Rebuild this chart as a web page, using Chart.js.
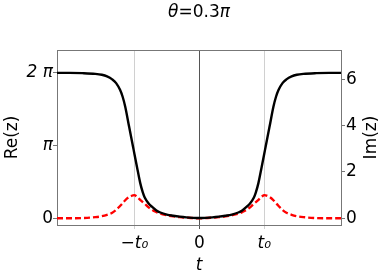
<!DOCTYPE html>
<html>
<head>
<meta charset="utf-8">
<script src="https://cdn.jsdelivr.net/npm/chart.js@4.4.0/dist/chart.umd.min.js"></script>
<style>
  html, body { margin: 0; padding: 0; background: #fff; }
  #wrap { width: 382px; height: 276px; }
</style>
</head>
<body>
<div id="wrap"><canvas id="plot" width="382" height="276"></canvas></div>
<script>
// t in units of t0
const tVals = [-2.19, -2.0, -1.8, -1.6, -1.5, -1.42, -1.34, -1.28, -1.22, -1.18, -1.14, -1.08, -1.02, -1.0, -0.96, -0.91, -0.87, -0.84, -0.78, -0.73, -0.66, -0.6, -0.5, -0.4, -0.3, -0.2, -0.1,
  0,
  0.1, 0.2, 0.3, 0.4, 0.5, 0.6, 0.66, 0.73, 0.78, 0.84, 0.87, 0.91, 0.96, 1.0, 1.02, 1.08, 1.14, 1.18, 1.22, 1.28, 1.34, 1.42, 1.5, 1.6, 1.8, 2.0, 2.19];
const reVals = [6.28, 6.28, 6.27, 6.24, 6.20, 6.13, 6.00, 5.84, 5.55, 5.25, 4.82, 3.95, 3.09, 2.80, 2.23, 1.53, 1.12, 0.90, 0.64, 0.50, 0.34, 0.25, 0.16, 0.11, 0.07, 0.04, 0.02,
  0.01,
  0.02, 0.04, 0.07, 0.11, 0.16, 0.25, 0.34, 0.50, 0.64, 0.90, 1.12, 1.53, 2.23, 2.80, 3.09, 3.95, 4.82, 5.25, 5.55, 5.84, 6.00, 6.13, 6.20, 6.24, 6.27, 6.28, 6.28];
const imVals = [0, 0, 0.01, 0.05, 0.09, 0.15, 0.24, 0.36, 0.53, 0.65, 0.78, 0.92, 0.99, 1.0, 0.93, 0.8, 0.7, 0.63, 0.47, 0.37, 0.27, 0.2, 0.13, 0.08, 0.05, 0.03, 0.01,
  0,
  0.01, 0.03, 0.05, 0.08, 0.13, 0.2, 0.27, 0.37, 0.47, 0.63, 0.7, 0.8, 0.93, 1.0, 0.99, 0.92, 0.78, 0.65, 0.53, 0.36, 0.24, 0.15, 0.09, 0.05, 0.01, 0, 0];

const xTicks = [-1, 0, 1];
const xTickLabels = ["\u2212t\u2080", "0", "t\u2080"];
const reTicks = [0, Math.PI, 2 * Math.PI];
const reTickLabels = ["0", "\u03c0", "2 \u03c0"];
const imTicks = [0, 2, 4, 6];

const FONT = "'DejaVu Sans', sans-serif";
const frameColor = "#777";

const extras = {
  id: "extras",
  afterDraw(chart) {
    const { ctx, chartArea: a } = chart;
    ctx.save();
    ctx.strokeStyle = frameColor;
    ctx.lineWidth = 1;
    ctx.beginPath();
    ctx.moveTo(a.left, a.top + 0.5);
    ctx.lineTo(a.right, a.top + 0.5);
    ctx.stroke();

    // title: θ=0.3π
    ctx.fillStyle = "#000";
    ctx.textBaseline = "middle";
    const parts = [["\u03b8", "italic"], ["=0.3", "normal"], ["\u03c0", "italic"]];
    let w = 0;
    parts.forEach(p => { ctx.font = p[1] + " 17px " + FONT; w += ctx.measureText(p[0]).width; });
    let x = (a.left + a.right) / 2 - w / 2;
    parts.forEach(p => {
      ctx.font = p[1] + " 17px " + FONT;
      ctx.fillText(p[0], x, 13);
      x += ctx.measureText(p[0]).width;
    });

    // right axis title, reads bottom to top
    ctx.font = "17px " + FONT;
    ctx.translate(372, (a.top + a.bottom) / 2);
    ctx.rotate(-Math.PI / 2);
    ctx.textAlign = "center";
    ctx.fillText("Im(z)", 0, 0);
    ctx.restore();
  }
};

new Chart(document.getElementById("plot").getContext("2d"), {
  type: "line",
  data: {
    labels: tVals,
    datasets: [
      {
        label: "Re(z)",
        data: tVals.map((t, i) => ({ x: t, y: reVals[i] })),
        yAxisID: "y",
        borderColor: "#000",
        borderWidth: 2.4,
        pointRadius: 0,
        cubicInterpolationMode: "monotone",
        fill: false,
      },
      {
        label: "Im(z)",
        data: tVals.map((t, i) => ({ x: t, y: imVals[i] })),
        yAxisID: "y1",
        borderColor: "#ff0000",
        borderWidth: 2.4,
        borderDash: [6, 3],
        pointRadius: 0,
        cubicInterpolationMode: "monotone",
        fill: false,
      },
    ],
  },
  options: {
    responsive: false,
    animation: false,
    layout: { padding: { top: 50, left: 0, right: 0, bottom: 0 } },
    plugins: { legend: { display: false }, tooltip: { enabled: false } },
    scales: {
      x: {
        type: "linear",
        min: -2.19,
        max: 2.18,
        afterBuildTicks: (s) => { s.ticks = xTicks.map(v => ({ value: v })); },
        afterFit: (s) => { s.height = 51; },
        border: { color: frameColor },
        grid: {
          color: (c) => (c.tick && c.tick.value === 0 ? "#555" : "#d0d0d0"),
          tickLength: 4,
        },
        ticks: {
          color: "#000",
          padding: 4,
          font: (c) => ({ family: FONT, size: 17, style: c.tick && c.tick.value !== 0 ? "italic" : "normal" }),
          callback: (v) => xTickLabels[xTicks.indexOf(v)],
        },
        title: { display: true, text: "t", color: "#000", font: { family: FONT, size: 17, style: "italic" }, padding: 0 },
      },
      y: {
        position: "left",
        min: -0.29,
        max: 7.27,
        afterBuildTicks: (s) => { s.ticks = reTicks.map(v => ({ value: v })); },
        afterFit: (s) => { s.width = 57; },
        border: { color: frameColor },
        grid: { drawOnChartArea: false, color: frameColor, tickLength: 4 },
        ticks: {
          color: "#000",
          padding: 0,
          font: (c) => ({ family: FONT, size: 17, style: c.tick && c.tick.value !== 0 ? "italic" : "normal" }),
          callback: (v) => reTickLabels[reTicks.indexOf(v)],
        },
        title: { display: true, text: "Re(z)", color: "#000", font: { family: FONT, size: 17 }, padding: { top: 2 } },
      },
      y1: {
        position: "right",
        min: -0.29,
        max: 7.27,
        afterBuildTicks: (s) => { s.ticks = imTicks.map(v => ({ value: v })); },
        afterFit: (s) => { s.width = 41; },
        border: { color: frameColor },
        grid: { drawOnChartArea: false, color: frameColor, tickLength: 4 },
        ticks: { color: "#000", padding: 1, font: { family: FONT, size: 17 } },
      },
    },
  },
  plugins: [extras],
});
</script>
</body>
</html>
